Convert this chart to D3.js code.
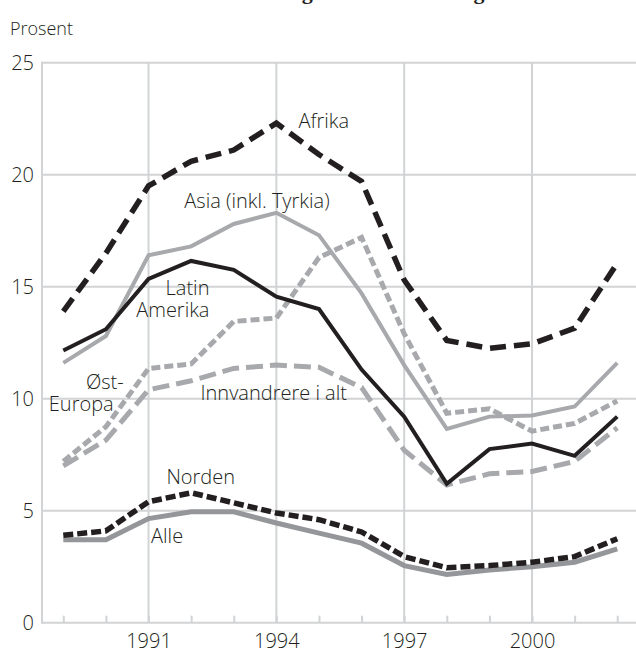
<!DOCTYPE html>
<html>
<head>
<meta charset="utf-8">
<script src="https://cdn.jsdelivr.net/npm/d3@7"></script>
<style>
  html, body { margin: 0; padding: 0; background: #fff; }
  svg { display: block; }
</style>
</head>
<body>
<div id="app"></div>
<script>
// years and series (prosent)
const years = [1989, 1990, 1991, 1992, 1993, 1994, 1995, 1996, 1997, 1998, 1999, 2000, 2001, 2002];
const afrika = [13.9, 16.5, 19.5, 20.6, 21.1, 22.3, 20.9, 19.7, 15.3, 12.6, 12.25, 12.45, 13.15, 16.05];
const asia = [11.6, 12.8, 16.4, 16.8, 17.8, 18.3, 17.3, 14.7, 11.5, 8.65, 9.2, 9.25, 9.65, 11.6];
const latinAmerika = [12.15, 13.1, 15.35, 16.15, 15.75, 14.55, 14.0, 11.3, 9.2, 6.2, 7.75, 8.0, 7.45, 9.2];
const ostEuropa = [7.2, 8.75, 11.35, 11.55, 13.45, 13.6, 16.3, 17.2, 12.9, 9.35, 9.55, 8.55, 8.9, 9.9];
const innvandrere = [7.0, 8.15, 10.4, 10.8, 11.35, 11.5, 11.4, 10.5, 7.7, 6.15, 6.65, 6.75, 7.2, 8.7];
const norden = [3.9, 4.1, 5.4, 5.8, 5.35, 4.9, 4.6, 4.05, 2.95, 2.45, 2.55, 2.7, 2.95, 3.75];
const alle = [3.7, 3.7, 4.65, 4.95, 4.95, 4.45, 4.0, 3.55, 2.55, 2.15, 2.35, 2.5, 2.7, 3.3];

const yTicks = [0, 5, 10, 15, 20, 25];
const xLabelYears = [1991, 1994, 1997, 2000];

const width = 636;
const height = 650;
const black = '#231f20';
const gray = '#a7a9ac';
const darkGray = '#949699';
const gridColor = '#d1d3d4';
const font = '"Open Sans", "Noto Sans", sans-serif';

const series = [
  { name: 'Innvandrere i alt', values: innvandrere, color: gray, width: 5, dash: '17,7' },
  { name: 'Øst-Europa', values: ostEuropa, color: gray, width: 5, dash: '9,4' },
  { name: 'Asia (inkl. Tyrkia)', values: asia, color: gray, width: 4, dash: null },
  { name: 'Alle', values: alle, color: darkGray, width: 5, dash: null },
  { name: 'Latin Amerika', values: latinAmerika, color: black, width: 4, dash: null },
  { name: 'Norden', values: norden, color: black, width: 5.5, dash: '10,4' },
  { name: 'Afrika', values: afrika, color: black, width: 5.5, dash: '16,8' },
];

// labels in data units; each line: [text, year, value]
const labels = [
  { anchor: 'start', lines: [['Afrika', 1994.52, 22.1]] },
  { anchor: 'start', lines: [['Asia (inkl. Tyrkia)', 1991.84, 18.5]] },
  { anchor: 'end', lines: [['Latin', 1992.43, 14.65], ['Amerika', 1992.43, 13.65]] },
  { anchor: 'start', lines: [['Øst-', 1989.53, 10.43], ['Europa', 1988.66, 9.45]] },
  { anchor: 'start', lines: [['Innvandrere i alt', 1992.22, 9.93]] },
  { anchor: 'start', lines: [['Norden', 1991.42, 6.2]] },
  { anchor: 'start', lines: [['Alle', 1991.06, 3.55]] },
];

const svg = d3
  .select('#app')
  .append('svg')
  .attr('width', width)
  .attr('height', height);

const x = d3.scaleLinear().domain([1988.5, 2002.44]).range([42, 636]);
const y = d3.scaleLinear().domain([0, 25]).range([622.7, 62.7]);

// title, mostly cut off at the top
svg
  .append('text')
  .attr('x', 362)
  .attr('y', -1)
  .attr('text-anchor', 'middle')
  .attr('font-family', '"Liberation Serif", serif')
  .attr('font-weight', 'bold')
  .attr('font-size', 22)
  .attr('fill', black)
  .text('Arbeidsledighet etter landbakgrunn');

svg
  .append('text')
  .attr('x', 10)
  .attr('y', 35)
  .attr('font-family', font)
  .attr('font-weight', 300)
  .attr('font-size', 18)
  .attr('fill', black)
  .text('Prosent');

// grid
const grid = svg.append('g').attr('stroke', gridColor).attr('stroke-width', 2);
grid
  .selectAll('line.h')
  .data(yTicks)
  .enter()
  .append('line')
  .attr('x1', x.range()[0])
  .attr('x2', x.range()[1])
  .attr('y1', (d) => y(d))
  .attr('y2', (d) => y(d));
grid
  .selectAll('line.v')
  .data(xLabelYears)
  .enter()
  .append('line')
  .attr('x1', (d) => x(d))
  .attr('x2', (d) => x(d))
  .attr('y1', y(0))
  .attr('y2', y(25));
grid
  .append('line')
  .attr('x1', x.range()[0])
  .attr('x2', x.range()[0])
  .attr('y1', y(0) + 1)
  .attr('y2', y(25) - 1);

// small year ticks along the bottom
const xAxis = d3
  .axisBottom(x)
  .tickValues(years)
  .tickSize(-7)
  .tickFormat((d) => (xLabelYears.includes(d) ? d : ''));
const gx = svg
  .append('g')
  .attr('transform', `translate(0,${y(0)})`)
  .call(xAxis);
gx.select('.domain').remove();
gx.selectAll('.tick line').attr('stroke', gridColor).attr('stroke-width', 2);
gx.selectAll('.tick text')
  .attr('y', 25)
  .attr('dy', 0)
  .attr('font-family', font)
  .attr('font-weight', 300)
  .attr('font-size', 20)
  .attr('fill', black);

const yAxis = d3.axisLeft(y).tickValues(yTicks).tickSize(0).tickPadding(8);
const gy = svg
  .append('g')
  .attr('transform', `translate(${x.range()[0]},0)`)
  .call(yAxis);
gy.select('.domain').remove();
gy.selectAll('.tick text')
  .attr('font-family', font)
  .attr('font-weight', 300)
  .attr('font-size', 20)
  .attr('fill', black);

// lines
const line = d3
  .line()
  .x((d, i) => x(years[i]))
  .y((d) => y(d));

svg
  .append('g')
  .selectAll('path')
  .data(series)
  .enter()
  .append('path')
  .attr('d', (d) => line(d.values))
  .attr('fill', 'none')
  .attr('stroke', (d) => d.color)
  .attr('stroke-width', (d) => d.width)
  .attr('stroke-dasharray', (d) => d.dash)
  .attr('stroke-linejoin', 'miter');

// series labels (two-line labels kept in one text element)
const lbl = svg
  .append('g')
  .selectAll('text')
  .data(labels)
  .enter()
  .append('text')
  .attr('text-anchor', (d) => d.anchor)
  .attr('font-family', font)
  .attr('font-weight', 300)
  .attr('font-size', 20)
  .attr('fill', black);

lbl
  .selectAll('tspan')
  .data((d) => d.lines)
  .enter()
  .append('tspan')
  .attr('x', (d) => x(d[1]))
  .attr('y', (d) => y(d[2]))
  .text((d) => d[0]);
</script>
</body>
</html>
